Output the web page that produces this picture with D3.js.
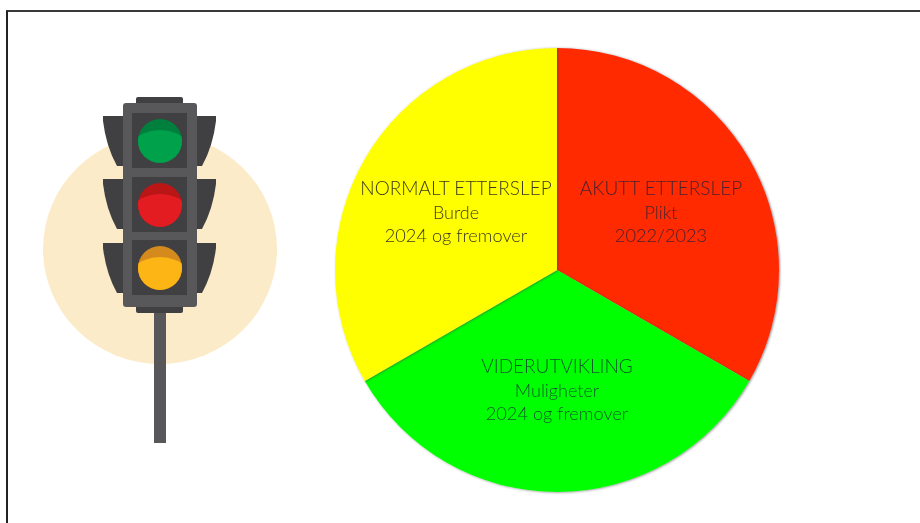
<!DOCTYPE html>
<html>
<head>
<meta charset="utf-8">
<script src="https://cdnjs.cloudflare.com/ajax/libs/d3/7.8.5/d3.min.js"></script>
<style>
  html, body { margin: 0; padding: 0; background: #fff; }
  svg { display: block; }
  text { font-family: Lato, "Open Sans", sans-serif; font-weight: 300; }
</style>
</head>
<body>
<svg id="chart"></svg>
<script>
const categories = ["AKUTT ETTERSLEP", "VIDERUTVIKLING", "NORMALT ETTERSLEP"];
const subLabels = ["Plikt", "Muligheter", "Burde"];
const periods = ["2022/2023", "2024 og fremover", "2024 og fremover"];
const shares = [1, 1, 1];
const sliceColors = ["#ff2a00", "#00ff00", "#ffff00"];

const width = 920;
const height = 523;
const radius = 222;

const svg = d3.select("#chart")
    .attr("width", width)
    .attr("height", height);

const defs = svg.append("defs");
defs.append("filter").attr("id", "soft")
    .append("feGaussianBlur").attr("stdDeviation", 0.55);
const shadow = defs.append("filter").attr("id", "shadow")
    .attr("x", "-5%").attr("y", "-5%").attr("width", "110%").attr("height", "110%");
shadow.append("feDropShadow")
    .attr("dx", 1).attr("dy", 0.5)
    .attr("stdDeviation", 1.3)
    .attr("flood-color", "#444").attr("flood-opacity", 0.6);

// frame of the screenshot
const frame = svg.append("g").attr("stroke", "#3a3a3a").attr("stroke-width", 2);
frame.append("line").attr("x1", 6).attr("y1", 11).attr("x2", 920).attr("y2", 11);
frame.append("line").attr("x1", 7).attr("y1", 11).attr("x2", 7).attr("y2", 523).attr("stroke", "#222");

drawLight();
drawPie();

function drawPie() {
    const pie = d3.pie().sort(null)(shares);
    const arc = d3.arc().innerRadius(0).outerRadius(radius);

    const body = svg.append("g")
        .attr("transform", "translate(557,270)");

    body.append("g")
        .selectAll("path")
        .data(pie)
        .enter()
        .append("path")
        .attr("d", arc)
        .attr("filter", "url(#shadow)")
        .attr("fill", (d, i) => sliceColors[i]);

    const labelPos = [[104, -75], [0, 103], [-101, -75]];
    const lineGap = [0, 24, 47];

    const labels = body.selectAll(".label")
        .data(categories)
        .enter()
        .append("g")
        .attr("class", "label")
        .attr("transform", (d, i) => `translate(${labelPos[i][0]},${labelPos[i][1]})`)
        .attr("text-anchor", "middle")
        .attr("fill", (d, i) => ["#4a2030", "#0c5a2c", "#3a3a20"][i])
        .attr("filter", "url(#soft)");

    labels.append("text").attr("font-size", 19).text(d => d);
    labels.append("text").attr("font-size", 18).attr("y", lineGap[1]).text((d, i) => subLabels[i]);
    labels.append("text").attr("font-size", 18.2).attr("y", lineGap[2]).text((d, i) => periods[i]);
}

function drawLight() {
    const g = svg.append("g").attr("filter", "url(#soft)");

    g.append("ellipse").attr("cx", 160).attr("cy", 249).attr("rx", 117).attr("ry", 115).attr("fill", "#fcebc8");
    g.append("rect").attr("x", 154).attr("y", 300).attr("width", 12).attr("height", 143).attr("fill", "#58585a");

    // caps on top and bottom of the housing
    g.append("rect").attr("x", 136).attr("y", 97).attr("width", 47).attr("height", 10).attr("rx", 2).attr("fill", "#414042");
    g.append("rect").attr("x", 136).attr("y", 303).attr("width", 47).attr("height", 10).attr("rx", 2).attr("fill", "#414042");

    const rows = [
        { top: 116, cy: 141, lamp: "#00a14b", dark: "#007f3c" },
        { top: 179, cy: 205, lamp: "#e31e24", dark: "#bb1419" },
        { top: 243, cy: 268, lamp: "#fdb515", dark: "#d48a1a" }
    ];

    // side visors
    rows.forEach(r => {
        const t = r.top;
        g.append("path")
            .attr("d", `M103,${t} H124 V${t + 50} H117 Q106,${t + 30} 103,${t + 5} Z`)
            .attr("fill", "#414042");
        g.append("path")
            .attr("d", `M216,${t} H195 V${t + 50} H202 Q213,${t + 30} 216,${t + 5} Z`)
            .attr("fill", "#414042");
    });

    g.append("rect").attr("x", 123).attr("y", 103).attr("width", 74).attr("height", 204).attr("rx", 3).attr("fill", "#58585a");

    rows.forEach((r, i) => {
        g.append("rect").attr("x", 132).attr("y", r.cy - 28).attr("width", 55).attr("height", 55).attr("fill", "#414042");
        g.append("circle").attr("cx", 160).attr("cy", r.cy).attr("r", 22).attr("fill", r.dark);
        const clipId = `lamp${i}`;
        defs.append("clipPath").attr("id", clipId)
            .append("circle").attr("cx", 160).attr("cy", r.cy).attr("r", 22);
        g.append("ellipse")
            .attr("clip-path", `url(#${clipId})`)
            .attr("cx", 160).attr("cy", r.cy + 29).attr("rx", 40).attr("ry", 40)
            .attr("fill", r.lamp);
    });
}
</script>
</body>
</html>
